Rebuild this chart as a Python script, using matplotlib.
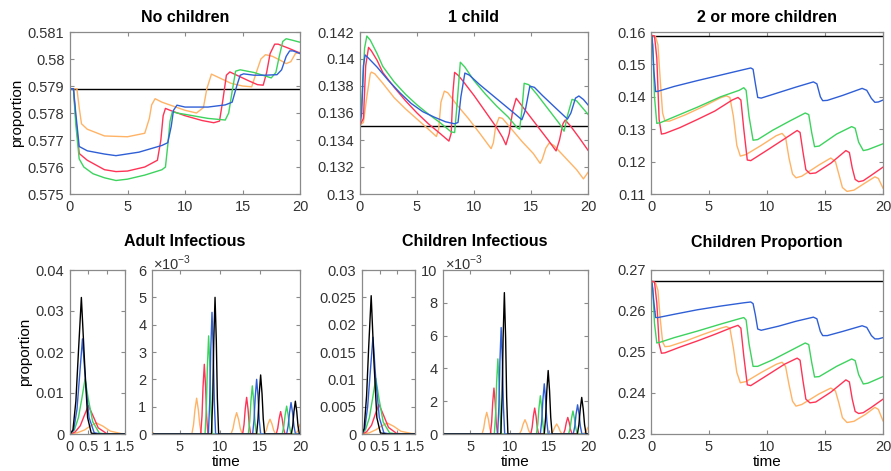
import matplotlib
matplotlib.use('Agg')
import matplotlib.pyplot as plt
from matplotlib.ticker import FuncFormatter

plt.rcParams['font.family'] = ['Liberation Sans', 'DejaVu Sans']
plt.rcParams['mathtext.fontset'] = 'custom'
plt.rcParams['mathtext.rm'] = 'Liberation Sans'

W, H = 891, 471

# ---------------- No children ----------------
nc_black = 0.57888
nc_t_orange = [0, 0.6, 0.8, 1.0, 1.5, 3, 5, 6.5, 6.9, 7.1, 7.4, 8, 9, 10, 11, 11.6, 11.9, 12.3, 13, 14,
               15, 15.8, 16.2, 16.6, 17.0, 17.6, 18.3, 18.8, 19.2, 19.6, 20]
nc_orange = [0.5789, 0.5789, 0.5782, 0.5776, 0.5774, 0.57715, 0.57712, 0.57725, 0.5778, 0.5783, 0.57853,
             0.5784, 0.57825, 0.5781, 0.578, 0.5782, 0.5789, 0.57944, 0.5793, 0.5791, 0.579, 0.57897,
             0.5795, 0.58, 0.58016, 0.5801, 0.57995, 0.57983, 0.5799, 0.5802, 0.58025]
nc_t_blue = [0, 0.3, 0.5, 0.8, 1.5, 3, 4, 6, 8, 8.5, 8.8, 9.0, 9.3, 10, 12, 13.5, 14.1, 14.5, 14.8, 15.1,
             16, 17, 18, 18.4, 18.8, 19.1, 19.4, 20]
nc_blue = [0.5789, 0.5789, 0.578, 0.57676, 0.5766, 0.57648, 0.57642, 0.57655, 0.5768, 0.5769, 0.5775,
           0.5781, 0.57829, 0.57822, 0.57822, 0.5783, 0.5784, 0.579, 0.5794, 0.57945, 0.5794, 0.5794,
           0.57942, 0.5796, 0.5801, 0.5803, 0.5803, 0.5802]
nc_t_red = [0, 0.3, 0.5, 0.8, 1.5, 3, 4, 5, 6.5, 7.6, 7.9, 8.1, 8.3, 8.7, 10, 11.5, 12.5, 13.0, 13.3, 13.6,
            13.9, 14.5, 15.5, 16.3, 16.8, 17.1, 17.4, 17.8, 18.1, 19, 20]
nc_red = [0.5789, 0.5789, 0.5778, 0.5765, 0.57625, 0.5759, 0.57583, 0.57585, 0.576, 0.57625, 0.577,
          0.5779, 0.57817, 0.5781, 0.5779, 0.57772, 0.57764, 0.5777, 0.5785, 0.5794, 0.57952, 0.5794,
          0.5792, 0.57905, 0.57903, 0.5795, 0.5802, 0.58055, 0.58055, 0.5804, 0.58022]
nc_t_green = [0, 0.3, 0.5, 0.8, 1.2, 2, 3, 4, 5, 6.5, 8.0, 8.3, 8.5, 8.7, 8.9, 9.3, 10, 12, 13.5, 13.8,
              14.1, 14.4, 14.8, 16, 17.5, 17.9, 18.2, 18.5, 18.8, 19.3, 20]
nc_green = [0.5789, 0.5789, 0.5776, 0.5763, 0.576, 0.57575, 0.5756, 0.5755, 0.57555, 0.5757, 0.5759,
            0.576, 0.5768, 0.5777, 0.57805, 0.578, 0.57795, 0.5778, 0.57774, 0.578, 0.5788, 0.57955,
            0.5796, 0.5795, 0.5793, 0.5795, 0.5801, 0.58065, 0.58075, 0.5807, 0.58062]

# ---------------- 1 child ----------------
oc_black = 0.13505
oc_t_green = [0, 0.2, 0.4, 0.6, 0.9, 1.5, 2, 3, 4, 5, 6, 7, 8.0, 8.3, 8.5, 8.8, 9.2, 10, 11, 12, 13, 13.8,
              14.0, 14.2, 14.4, 14.8, 15.5, 16.5, 17.5, 17.9, 18.2, 18.6, 19.0, 19.5, 20]
oc_green = [0.1351, 0.1375, 0.1408, 0.1417, 0.1414, 0.1404, 0.13945, 0.1383, 0.13738, 0.1366, 0.13592,
            0.1353, 0.1346, 0.13455, 0.1365, 0.13976, 0.1394, 0.1384, 0.1374, 0.1365, 0.1357, 0.1349,
            0.1348, 0.1362, 0.1382, 0.1381, 0.1374, 0.1363, 0.1352, 0.13465, 0.1358, 0.13701, 0.1369,
            0.1364, 0.1359]
oc_t_red = [0, 0.3, 0.5, 0.75, 1.0, 1.5, 2, 3, 4, 5, 6, 7, 7.8, 8.0, 8.15, 8.3, 8.6, 9, 10, 11, 12, 12.5,
            12.8, 13.1, 13.4, 13.7, 14.5, 15.5, 16.5, 17.2, 17.5, 17.8, 18.0, 18.5, 19.2, 20]
oc_red = [0.1351, 0.1356, 0.1395, 0.14086, 0.1406, 0.1399, 0.139, 0.1379, 0.1369, 0.136, 0.1352, 0.1345,
          0.13392, 0.1345, 0.1375, 0.13901, 0.1388, 0.1384, 0.1373, 0.1361, 0.1349, 0.1342, 0.13365,
          0.1345, 0.1362, 0.13709, 0.1362, 0.1351, 0.134, 0.13319, 0.134, 0.1352, 0.13548, 0.135,
          0.1342, 0.13324]
oc_t_blue = [0, 0.15, 0.3, 0.45, 0.7, 1.5, 2.5, 3.5, 4.5, 5.5, 6.5, 7.5, 8.3, 8.6, 8.85, 9.2, 9.6, 10.5,
             11.5, 12.5, 13.5, 14.2, 14.5, 14.9, 15.3, 16, 17, 18.2, 18.5, 18.9, 19.2, 19.6, 20]
oc_blue = [0.1351, 0.136, 0.1395, 0.1403, 0.1401, 0.1394, 0.1384, 0.1375, 0.1367, 0.1361, 0.1357,
           0.13535, 0.1352, 0.1353, 0.1372, 0.13896, 0.1388, 0.1381, 0.1374, 0.1367, 0.136, 0.1355,
           0.1362, 0.13799, 0.1379, 0.1373, 0.1365, 0.13555, 0.136, 0.1371, 0.13726, 0.137, 0.1366]
oc_t_orange = [0, 0.3, 0.6, 0.9, 1.0, 1.3, 2, 3, 4, 5, 6, 6.7, 6.9, 7.1, 7.4, 7.7, 8.5, 9.5, 10.5, 11.5,
               11.7, 11.9, 12.2, 12.5, 13.2, 14.2, 15.2, 15.8, 16.0, 16.3, 16.6, 17, 18, 19, 19.6, 20]
oc_orange = [0.1351, 0.1353, 0.1372, 0.1389, 0.13903, 0.1389, 0.1382, 0.13713, 0.1363, 0.13555, 0.1348,
             0.13426, 0.1348, 0.1368, 0.13762, 0.1375, 0.1366, 0.1356, 0.1345, 0.13336, 0.1338, 0.135,
             0.13567, 0.1356, 0.1349, 0.1339, 0.133, 0.13227, 0.1326, 0.1334, 0.13378, 0.1336, 0.1327,
             0.1318, 0.13112, 0.1316]

# ------- 2 or more children / children proportion (same time grid) -------
tc_black = 0.1589
cp_black = 0.2673
tc_t_blue = [0, 0.1, 0.25, 0.4, 0.6, 2, 4, 6, 8, 8.6, 8.8, 9.0, 9.2, 9.5, 11, 12.5, 14.0, 14.3, 14.6, 14.8,
             15.2, 16.5, 18.2, 18.6, 19.0, 19.3, 19.6, 20]
tc_blue = [0.159, 0.1585, 0.148, 0.1416, 0.1417, 0.1432, 0.145, 0.1467, 0.1484, 0.1489, 0.1485, 0.144,
           0.1398, 0.1396, 0.1413, 0.143, 0.1446, 0.144, 0.14, 0.1388, 0.1389, 0.1404, 0.1426, 0.142,
           0.1395, 0.1383, 0.1384, 0.139]
cp_blue = [0.2673, 0.2668, 0.262, 0.2584, 0.2584, 0.2592, 0.2603, 0.2612, 0.262, 0.2622, 0.2618, 0.259,
           0.2556, 0.2553, 0.2563, 0.2575, 0.2585, 0.2581, 0.255, 0.254, 0.254, 0.255, 0.2564, 0.256,
           0.254, 0.2532, 0.2532, 0.2535]
tc_t_green = [0, 0.15, 0.3, 0.5, 0.8, 2, 4, 6, 7.6, 8.0, 8.2, 8.45, 8.8, 9.2, 10.5, 12, 13.3, 13.6, 13.85,
              14.1, 14.5, 16, 17.3, 17.6, 17.9, 18.3, 18.7, 20]
tc_green = [0.159, 0.156, 0.14, 0.1318, 0.132, 0.1338, 0.1368, 0.14, 0.142, 0.1428, 0.142, 0.134, 0.1266,
            0.1268, 0.1297, 0.1326, 0.135, 0.1345, 0.129, 0.1246, 0.1248, 0.1285, 0.1308, 0.1303, 0.126,
            0.1234, 0.1237, 0.1255]
cp_green = [0.2673, 0.2655, 0.257, 0.2522, 0.2524, 0.2535, 0.2551, 0.2568, 0.2581, 0.2584, 0.2578, 0.252,
            0.2465, 0.2465, 0.2481, 0.2503, 0.2522, 0.2518, 0.2475, 0.2439, 0.244, 0.2465, 0.2483, 0.2479,
            0.2445, 0.2422, 0.2424, 0.244]
tc_t_red = [0, 0.3, 0.5, 0.7, 0.9, 1.2, 2.5, 4, 5.5, 7.0, 7.5, 7.75, 8.0, 8.3, 8.6, 10, 11.5, 12.6, 12.85,
            13.1, 13.35, 13.7, 14.2, 15.5, 16.8, 17.1, 17.35, 17.6, 17.9, 18.3, 19, 20]
tc_red = [0.159, 0.1588, 0.152, 0.133, 0.1285, 0.1287, 0.1305, 0.133, 0.1356, 0.139, 0.1398, 0.139, 0.13,
          0.1205, 0.1203, 0.1235, 0.127, 0.1296, 0.129, 0.123, 0.1175, 0.1163, 0.1165, 0.1195, 0.1234,
          0.1228, 0.118, 0.1145, 0.1138, 0.1141, 0.1158, 0.1183]
cp_red = [0.2673, 0.2671, 0.262, 0.252, 0.2497, 0.2498, 0.2512, 0.2527, 0.2543, 0.256, 0.2565, 0.2558,
          0.249, 0.242, 0.2418, 0.2443, 0.247, 0.2485, 0.248, 0.243, 0.2385, 0.2376, 0.2378, 0.2402,
          0.2432, 0.2427, 0.2385, 0.2355, 0.235, 0.2352, 0.2365, 0.2385]
tc_t_orange = [0, 0.4, 0.6, 0.8, 1.0, 1.2, 1.6, 3, 4.5, 6.0, 6.5, 6.8, 7.1, 7.4, 7.7, 8.2, 9.5, 10.8, 11.3,
               11.6, 11.9, 12.2, 12.5, 13.0, 14.5, 15.5, 15.9, 16.2, 16.5, 16.9, 17.5, 18.5, 19.3, 19.6, 20]
tc_orange = [0.159, 0.1585, 0.156, 0.145, 0.135, 0.1325, 0.1325, 0.1345, 0.137, 0.1397, 0.1403, 0.1398,
             0.134, 0.125, 0.1217, 0.1222, 0.125, 0.128, 0.1287, 0.1275, 0.121, 0.1162, 0.115, 0.1155,
             0.119, 0.1211, 0.12, 0.116, 0.112, 0.1108, 0.1112, 0.1135, 0.1153, 0.1148, 0.1118]
cp_orange = [0.2673, 0.2668, 0.265, 0.258, 0.2525, 0.2513, 0.2514, 0.2527, 0.2543, 0.2558, 0.2562, 0.2558,
             0.251, 0.245, 0.2425, 0.2428, 0.245, 0.247, 0.2475, 0.2465, 0.242, 0.238, 0.2368, 0.2372,
             0.2398, 0.2412, 0.2405, 0.2375, 0.234, 0.2328, 0.2331, 0.2348, 0.2365, 0.236, 0.2332]

# ---------------- Adult infectious ----------------
ai_t_orange = [0, 0.2, 0.4, 0.56, 0.72, 0.9, 1.1, 1.4, 1.8,
               6.48, 6.69, 6.87, 7.08, 7.29, 7.47, 7.68,
               11.38, 11.625, 11.835, 12.08, 12.325, 12.535, 12.78,
               15.55, 15.795, 16.005, 16.25, 16.495, 16.705, 16.95, 19.4, 19.7, 20]
ai_orange = [0, 0.0003, 0.001, 0.002, 0.0027, 0.0019, 0.0007, 0.0001, 0,
             0, 0.00034, 0.00089, 0.00131, 0.00089, 0.00034, 0,
             0, 0.0002, 0.00053, 0.00078, 0.00053, 0.0002, 0,
             0, 0.00014, 0.00037, 0.00054, 0.00037, 0.00014, 0, 0, 0.0001, 0.00035]
ai_t_red = [0, 0.14, 0.28, 0.39, 0.5, 0.62, 0.77, 1.0, 1.3,
            7.59, 7.75, 7.88, 8.04, 8.2, 8.33, 8.49,
            12.83, 13.005, 13.155, 13.33, 13.505, 13.655, 13.83,
            17.03, 17.22, 17.39, 17.58, 17.77, 17.94, 18.13, 20]
ai_red = [0, 0.0005, 0.002, 0.0045, 0.0069, 0.0046, 0.0015, 0.0001, 0,
          0, 0.00066, 0.00173, 0.00255, 0.00173, 0.00066, 0,
          0, 0.00035, 0.00091, 0.00134, 0.00091, 0.00035, 0,
          0, 0.00021, 0.00056, 0.00082, 0.00056, 0.00021, 0, 0]
ai_t_green = [0, 0.12, 0.23, 0.32, 0.41, 0.5, 0.62, 0.8, 1.0,
              8.13, 8.29, 8.42, 8.58, 8.74, 8.87, 9.03,
              13.54, 13.715, 13.865, 14.04, 14.215, 14.365, 14.54,
              17.78, 17.97, 18.14, 18.33, 18.52, 18.69, 18.88, 20]
ai_green = [0, 0.001, 0.004, 0.0085, 0.0134, 0.0085, 0.003, 0.0002, 0,
            0, 0.00093, 0.00244, 0.00359, 0.00244, 0.00093, 0,
            0, 0.00046, 0.0012, 0.00176, 0.0012, 0.00046, 0,
            0, 0.00027, 0.00069, 0.00102, 0.00069, 0.00027, 0, 0]
ai_t_blue = [0, 0.1, 0.19, 0.26, 0.34, 0.42, 0.52, 0.66, 0.85,
             8.55, 8.71, 8.84, 9.0, 9.16, 9.29, 9.45,
             14.08, 14.255, 14.405, 14.58, 14.755, 14.905, 15.08,
             18.33, 18.52, 18.69, 18.88, 19.07, 19.24, 19.43, 20]
ai_blue = [0, 0.001, 0.006, 0.014, 0.0232, 0.013, 0.004, 0.0003, 0,
           0, 0.00116, 0.00303, 0.00445, 0.00303, 0.00116, 0,
           0, 0.00052, 0.00136, 0.002, 0.00136, 0.00052, 0,
           0, 0.0003, 0.00078, 0.00115, 0.00078, 0.0003, 0, 0]
ai_t_black = [0, 0.08, 0.16, 0.23, 0.31, 0.4, 0.48, 0.58, 0.75,
              8.93, 9.09, 9.22, 9.38, 9.54, 9.67, 9.83,
              14.58, 14.755, 14.905, 15.08, 15.255, 15.405, 15.58,
              18.92, 19.095, 19.245, 19.42, 19.595, 19.745, 19.92, 20]
ai_black = [0, 0.001, 0.008, 0.02, 0.0333, 0.017, 0.004, 0.0002, 0,
            0, 0.0013, 0.0034, 0.005, 0.0034, 0.0013, 0,
            0, 0.00056, 0.00147, 0.00216, 0.00147, 0.00056, 0,
            0, 0.00031, 0.00082, 0.0012, 0.00082, 0.00031, 0, 0]

# ---------------- Children infectious ----------------
ci_t_orange = [0, 0.2, 0.4, 0.56, 0.72, 0.9, 1.1, 1.4, 1.8,
               6.48, 6.69, 6.87, 7.08, 7.29, 7.47, 7.68,
               11.26, 11.505, 11.715, 11.96, 12.205, 12.415, 12.66,
               15.3, 15.545, 15.755, 16.0, 16.245, 16.455, 16.7, 19.3, 19.65, 20]
ci_orange = [0, 0.0002, 0.0008, 0.0015, 0.002, 0.0014, 0.0005, 0.0001, 0,
             0, 0.00034, 0.0009, 0.00132, 0.0009, 0.00034, 0,
             0, 0.00023, 0.00059, 0.00087, 0.00059, 0.00023, 0,
             0, 0.00016, 0.00041, 0.00061, 0.00041, 0.00016, 0, 0, 0.0001, 0.0004]
ci_t_red = [0, 0.13, 0.27, 0.37, 0.48, 0.6, 0.75, 0.98, 1.3,
            7.55, 7.71, 7.84, 8.0, 8.16, 8.29, 8.45,
            12.7, 12.875, 13.025, 13.2, 13.375, 13.525, 13.7,
            16.87, 17.06, 17.23, 17.42, 17.61, 17.78, 17.97, 20]
ci_red = [0, 0.0004, 0.0016, 0.0035, 0.0054, 0.0036, 0.0012, 0.0001, 0,
          0, 0.00073, 0.0019, 0.0028, 0.0019, 0.00073, 0,
          0, 0.00041, 0.00107, 0.00158, 0.00107, 0.00041, 0,
          0, 0.00026, 0.00069, 0.00101, 0.00069, 0.00026, 0, 0]
ci_t_green = [0, 0.1, 0.21, 0.3, 0.39, 0.48, 0.6, 0.78, 1.0,
              8.05, 8.21, 8.34, 8.5, 8.66, 8.79, 8.95,
              13.42, 13.595, 13.745, 13.92, 14.095, 14.245, 14.42,
              17.53, 17.72, 17.89, 18.08, 18.27, 18.44, 18.63, 20]
ci_green = [0, 0.0008, 0.003, 0.0065, 0.0102, 0.0065, 0.0022, 0.0002, 0,
            0, 0.00119, 0.00311, 0.00458, 0.00311, 0.00119, 0,
            0, 0.00061, 0.00158, 0.00233, 0.00158, 0.00061, 0,
            0, 0.00036, 0.00095, 0.0014, 0.00095, 0.00036, 0, 0]
ci_t_blue = [0, 0.08, 0.16, 0.23, 0.31, 0.39, 0.49, 0.62, 0.8,
             8.47, 8.63, 8.76, 8.92, 9.08, 9.21, 9.37,
             13.92, 14.095, 14.245, 14.42, 14.595, 14.745, 14.92,
             18.12, 18.31, 18.48, 18.67, 18.86, 19.03, 19.22, 20]
ci_blue = [0, 0.001, 0.005, 0.011, 0.0177, 0.01, 0.003, 0.0002, 0,
           0, 0.00169, 0.00441, 0.00649, 0.00441, 0.00169, 0,
           0, 0.0008, 0.00208, 0.00306, 0.00208, 0.0008, 0,
           0, 0.00046, 0.00121, 0.00178, 0.00121, 0.00046, 0, 0]
ci_t_black = [0, 0.06, 0.13, 0.19, 0.26, 0.34, 0.42, 0.52, 0.7,
              8.88, 9.04, 9.17, 9.33, 9.49, 9.62, 9.78,
              14.42, 14.595, 14.745, 14.92, 15.095, 15.245, 15.42,
              18.65, 18.84, 19.01, 19.2, 19.39, 19.56, 19.75, 20]
ci_black = [0, 0.001, 0.007, 0.016, 0.0253, 0.013, 0.003, 0.0002, 0,
            0, 0.00224, 0.00586, 0.00862, 0.00586, 0.00224, 0,
            0, 0.00101, 0.00263, 0.00387, 0.00263, 0.00101, 0,
            0, 0.00058, 0.00152, 0.00223, 0.00152, 0.00058, 0, 0]

c_orange, c_red, c_green, c_blue, c_black = '#ffb366', '#ff3355', '#3dd35e', '#2f5fd6', '#000000'
axis_gray = '#8a8a8a'
lw = 1.0
tick_fs, title_fs, label_fs = 10.5, 11.5, 11


def box(l, t, r, b):
    # pixel box -> figure fraction
    return [l / W, 1 - b / H, (r - l) / W, (b - t) / H]


def style(ax):
    for s in ax.spines.values():
        s.set_color(axis_gray)
        s.set_linewidth(0.9)
    ax.tick_params(direction='in', top=True, right=True, length=3, width=0.8,
                   color=axis_gray, labelcolor='#333333', labelsize=tick_fs, pad=4)


gfmt = FuncFormatter(lambda v, p: f'{v:g}')
milli = FuncFormatter(lambda v, p: f'{v * 1e3:g}')

fig = plt.figure(figsize=(W / 100, H / 100), dpi=100)

# --- top row ---
ax1 = fig.add_axes(box(70, 32, 300, 194))
ax2 = fig.add_axes(box(360, 32, 588, 194))
ax3 = fig.add_axes(box(651, 32, 883, 194))

ax1.plot([0, 20], [nc_black] * 2, color=c_black, lw=lw)
ax1.plot(nc_t_orange, nc_orange, color=c_orange, lw=lw)
ax1.plot(nc_t_red, nc_red, color=c_red, lw=lw)
ax1.plot(nc_t_green, nc_green, color=c_green, lw=lw)
ax1.plot(nc_t_blue, nc_blue, color=c_blue, lw=lw)
ax1.set_ylim(0.575, 0.581)
ax1.set_yticks([0.575, 0.576, 0.577, 0.578, 0.579, 0.58, 0.581])
ax1.set_ylabel('proportion', fontsize=label_fs, labelpad=3)
ax1.set_title('No children', fontsize=title_fs, fontweight='bold', pad=7)

ax2.plot([0, 20], [oc_black] * 2, color=c_black, lw=lw)
ax2.plot(oc_t_orange, oc_orange, color=c_orange, lw=lw)
ax2.plot(oc_t_red, oc_red, color=c_red, lw=lw)
ax2.plot(oc_t_green, oc_green, color=c_green, lw=lw)
ax2.plot(oc_t_blue, oc_blue, color=c_blue, lw=lw)
ax2.set_ylim(0.13, 0.142)
ax2.set_yticks([0.13, 0.132, 0.134, 0.136, 0.138, 0.14, 0.142])
ax2.set_title('1 child', fontsize=title_fs, fontweight='bold', pad=7)

ax3.plot([0, 20], [tc_black] * 2, color=c_black, lw=lw)
ax3.plot(tc_t_orange, tc_orange, color=c_orange, lw=lw)
ax3.plot(tc_t_red, tc_red, color=c_red, lw=lw)
ax3.plot(tc_t_green, tc_green, color=c_green, lw=lw)
ax3.plot(tc_t_blue, tc_blue, color=c_blue, lw=lw)
ax3.set_ylim(0.11, 0.16)
ax3.set_yticks([0.11, 0.12, 0.13, 0.14, 0.15, 0.16])
ax3.set_title('2 or more children', fontsize=title_fs, fontweight='bold', pad=7)

for ax in (ax1, ax2, ax3):
    ax.set_xlim(0, 20)
    ax.set_xticks([0, 5, 10, 15, 20])
    ax.yaxis.set_major_formatter(gfmt)
    style(ax)

# --- bottom row: infectious pairs (same data, early and late time windows) ---
pairs = [
    (box(70, 270, 125, 434), box(152, 270, 300, 434), 0.04, 0.006,
     [(ai_t_orange, ai_orange, c_orange), (ai_t_red, ai_red, c_red), (ai_t_green, ai_green, c_green),
      (ai_t_blue, ai_blue, c_blue), (ai_t_black, ai_black, c_black)],
     [0, 0.01, 0.02, 0.03, 0.04], [0, 0.001, 0.002, 0.003, 0.004, 0.005, 0.006]),
    (box(362, 270, 415, 434), box(443, 270, 588, 434), 0.03, 0.01,
     [(ci_t_orange, ci_orange, c_orange), (ci_t_red, ci_red, c_red), (ci_t_green, ci_green, c_green),
      (ci_t_blue, ci_blue, c_blue), (ci_t_black, ci_black, c_black)],
     [0, 0.005, 0.01, 0.015, 0.02, 0.025, 0.03], [0, 0.002, 0.004, 0.006, 0.008, 0.01]),
]
small_axes = []
for rs, rb, ymax_s, ymax_b, series, yt_s, yt_b in pairs:
    axs = fig.add_axes(rs)
    axb = fig.add_axes(rb)
    for t, v, c in series:
        axs.plot(t, v, color=c, lw=lw)
        axb.plot(t, v, color=c, lw=lw)
    axs.set_xlim(0, 1.5)
    axs.set_xticks([0, 0.5, 1, 1.5])
    axs.set_ylim(0, ymax_s)
    axs.set_yticks(yt_s)
    axs.xaxis.set_major_formatter(gfmt)
    axs.yaxis.set_major_formatter(gfmt)
    axb.set_xlim(1.5, 20)
    axb.set_xticks([5, 10, 15, 20])
    axb.set_ylim(0, ymax_b)
    axb.set_yticks(yt_b)
    axb.yaxis.set_major_formatter(milli)
    axb.set_xlabel('time', fontsize=label_fs, labelpad=1)
    style(axs)
    style(axb)
    small_axes.append(axs)

small_axes[0].set_ylabel('proportion', fontsize=label_fs, labelpad=3)

ax6 = fig.add_axes(box(651, 270, 883, 434))
ax6.plot([0, 20], [cp_black] * 2, color=c_black, lw=lw)
ax6.plot(tc_t_orange, cp_orange, color=c_orange, lw=lw)
ax6.plot(tc_t_red, cp_red, color=c_red, lw=lw)
ax6.plot(tc_t_green, cp_green, color=c_green, lw=lw)
ax6.plot(tc_t_blue, cp_blue, color=c_blue, lw=lw)
ax6.set_xlim(0, 20)
ax6.set_xticks([0, 5, 10, 15, 20])
ax6.set_ylim(0.23, 0.27)
ax6.set_yticks([0.23, 0.24, 0.25, 0.26, 0.27])
ax6.yaxis.set_major_formatter(gfmt)
ax6.set_xlabel('time', fontsize=label_fs, labelpad=1)
style(ax6)

# titles and exponent labels of the bottom row
for x, label in [(185, 'Adult Infectious'), (475, 'Children Infectious'), (767, 'Children Proportion')]:
    fig.text(x / W, 1 - 242 / H, label, ha='center', va='center', fontsize=title_fs, fontweight='bold')
for x in (153, 445):
    fig.text(x / W, 1 - 263 / H, r'$\times10^{-3}$', ha='left', va='center', fontsize=tick_fs,
             color='#333333')

fig.savefig('out.png', dpi=100)
